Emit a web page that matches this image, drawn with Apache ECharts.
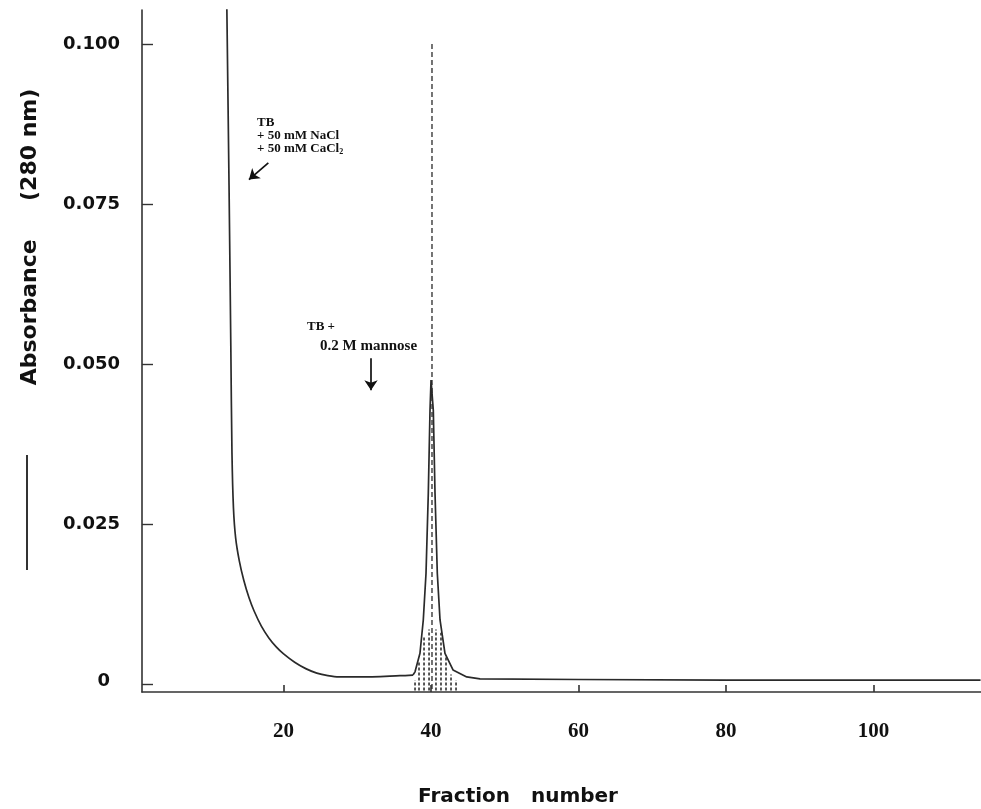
<!DOCTYPE html>
<html>
<head>
<meta charset="utf-8">
<script src="https://cdn.jsdelivr.net/npm/echarts@6/dist/echarts.min.js"></script>
<style>
html,body{margin:0;padding:0;background:#fff;}
#chart{width:981px;height:809px;}
</style>
</head>
<body>
<div id="chart"></div>
<script>
// ---- data ----
// unbound material (washing step), smooth decay
const washFractions = [12.3, 12.6, 12.85, 13.0, 13.2, 13.5, 14.0, 14.6, 15.3, 16.0, 17.0, 18.0, 19.0, 20.0, 21.5, 23.0, 24.5, 26.0, 27.5, 30.4, 35.78, 37.54];
const washAbsorb    = [0.106, 0.078, 0.052, 0.036, 0.0275, 0.0228, 0.0192, 0.0162, 0.0135, 0.0114, 0.0090, 0.0072, 0.0058, 0.0047, 0.0034, 0.0024, 0.0017, 0.0013, 0.0011, 0.0011, 0.0013, 0.0014];
// mannose-eluted peak and tail
const peakFractions = [37.54, 37.82, 38.49, 38.94, 39.31, 39.62, 39.85, 39.99, 40.30, 40.53, 40.84, 41.21, 41.88, 42.97, 44.83, 46.63, 60, 80, 100, 114.5];
const peakAbsorb    = [0.0014, 0.0019, 0.0048, 0.0100, 0.0173, 0.0298, 0.0427, 0.0475, 0.0427, 0.0298, 0.0173, 0.0100, 0.0048, 0.0022, 0.0011, 0.0008, 0.0007, 0.0006, 0.0006, 0.0006];

// pooled fractions (dashed hatching under the peak)
const hatchX   = [37.82, 38.36, 39.04, 39.72, 40.66, 41.34, 42.02, 42.70, 43.38];
const hatchTop = [0.0006, 0.0035, 0.0075, 0.0085, 0.0085, 0.0080, 0.0045, 0.0015, 0.0006];
const hatchBottom = -0.001;

// dashed elution marker
const markerX = 40.12;
const markerTop = 0.100;

const xTicks = [20, 40, 60, 80, 100];
const yTicks = [0, 0.025, 0.050, 0.075, 0.100];

// annotation arrows (data units)
const arrow1 = [[17.93, 0.0814], [15.3, 0.0788]];
const arrow2 = [[31.85, 0.0509], [31.85, 0.0459]];

// ---- chart ----
const chart = echarts.init(document.getElementById('chart'));
const lineColor = '#2a2a2a';

const series = [];
series.push({
  type: 'line',
  name: 'Absorbance',
  data: washFractions.map((f, i) => [f, washAbsorb[i]]),
  symbol: 'none',
  smooth: 0.3,
  lineStyle: { color: lineColor, width: 1.7 },
  clip: true,
  z: 5
});
series.push({
  type: 'line',
  name: 'Absorbance peak',
  data: peakFractions.map((f, i) => [f, peakAbsorb[i]]),
  symbol: 'none',
  lineStyle: { color: lineColor, width: 1.7 },
  clip: true,
  z: 5
});
series.push({
  type: 'line',
  name: 'marker',
  data: [[markerX, markerTop], [markerX, hatchBottom]],
  symbol: 'none',
  lineStyle: { color: lineColor, width: 1.3, type: [5, 3] },
  z: 4
});
hatchX.forEach((x, i) => {
  series.push({
    type: 'line',
    data: [[x, hatchBottom], [x, hatchTop[i]]],
    symbol: 'none',
    lineStyle: { color: '#222', width: 1.5, type: [3, 2] },
    z: 3
  });
});
series.push({
  type: 'lines',
  coordinateSystem: 'cartesian2d',
  symbol: ['none', 'arrow'],
  symbolSize: 10,
  lineStyle: { color: '#111', width: 1.7, opacity: 1 },
  data: [{ coords: arrow1 }, { coords: arrow2 }],
  z: 6
});

const serif = '"Liberation Serif", "Times New Roman", serif';
const sansB = '"DejaVu Sans", sans-serif';

chart.setOption({
  animation: false,
  backgroundColor: '#ffffff',
  grid: { left: 142, right: 0, top: 10, bottom: 117, containLabel: false },
  xAxis: {
    type: 'value',
    min: 0.8,
    max: 114.56,
    axisLine: { show: true, onZero: false, lineStyle: { color: '#333', width: 1.6 } },
    axisTick: { show: true, inside: true, length: 7, customValues: xTicks, lineStyle: { color: '#333', width: 1.6 } },
    axisLabel: {
      customValues: xTicks,
      margin: 29,
      fontFamily: serif,
      fontWeight: 'bold',
      fontSize: 21,
      color: '#111'
    },
    splitLine: { show: false }
  },
  yAxis: {
    type: 'value',
    min: -0.00125,
    max: 0.1053,
    axisLine: { show: true, lineStyle: { color: '#333', width: 1.6 } },
    axisTick: { show: true, inside: true, length: 11, customValues: yTicks, lineStyle: { color: '#333', width: 1.4 } },
    axisLabel: {
      customValues: yTicks,
      margin: 22,
      fontFamily: sansB,
      fontWeight: 'bold',
      fontSize: 18,
      color: '#111',
      formatter: v => (Math.abs(v) < 1e-9 ? '{z|0}' : v.toFixed(3)),
      rich: { z: { fontFamily: sansB, fontWeight: 'bold', fontSize: 18, color: '#111', padding: [0, 10, 6, 0] } }
    },
    splitLine: { show: false }
  },
  series: series,
  graphic: [
    {
      type: 'text', x: 30, y: 237, rotation: Math.PI / 2,
      style: { text: 'Absorbance     (280 nm)', font: 'bold 22px "DejaVu Sans", sans-serif', fill: '#111', align: 'center', verticalAlign: 'middle' }
    },
    {
      type: 'line', shape: { x1: 27, y1: 455, x2: 27, y2: 570 },
      style: { stroke: '#333', lineWidth: 2 }
    },
    {
      type: 'text', x: 518, y: 797,
      style: { text: 'Fraction   number', font: 'bold 20px "DejaVu Sans", sans-serif', fill: '#111', align: 'center', verticalAlign: 'middle' }
    },
    {
      type: 'text', x: 257, y: 116,
      style: {
        text: 'TB\n+ 50 mM NaCl\n+ 50 mM CaCl{s|2}',
        rich: { s: { fontSize: 8, fontFamily: serif, fontWeight: 'bold', fill: '#111', padding: [6, 0, 0, 0] } },
        font: 'bold 13px "Liberation Serif", serif', fill: '#111', lineHeight: 13, align: 'left', verticalAlign: 'top'
      }
    },
    {
      type: 'text', x: 307, y: 320,
      style: { text: 'TB +', font: 'bold 13px "Liberation Serif", serif', fill: '#111', align: 'left', verticalAlign: 'top' }
    },
    {
      type: 'text', x: 320, y: 339,
      style: { text: '0.2 M mannose', font: 'bold 15px "Liberation Serif", serif', fill: '#111', align: 'left', verticalAlign: 'top' }
    }
  ]
});
</script>
</body>
</html>
